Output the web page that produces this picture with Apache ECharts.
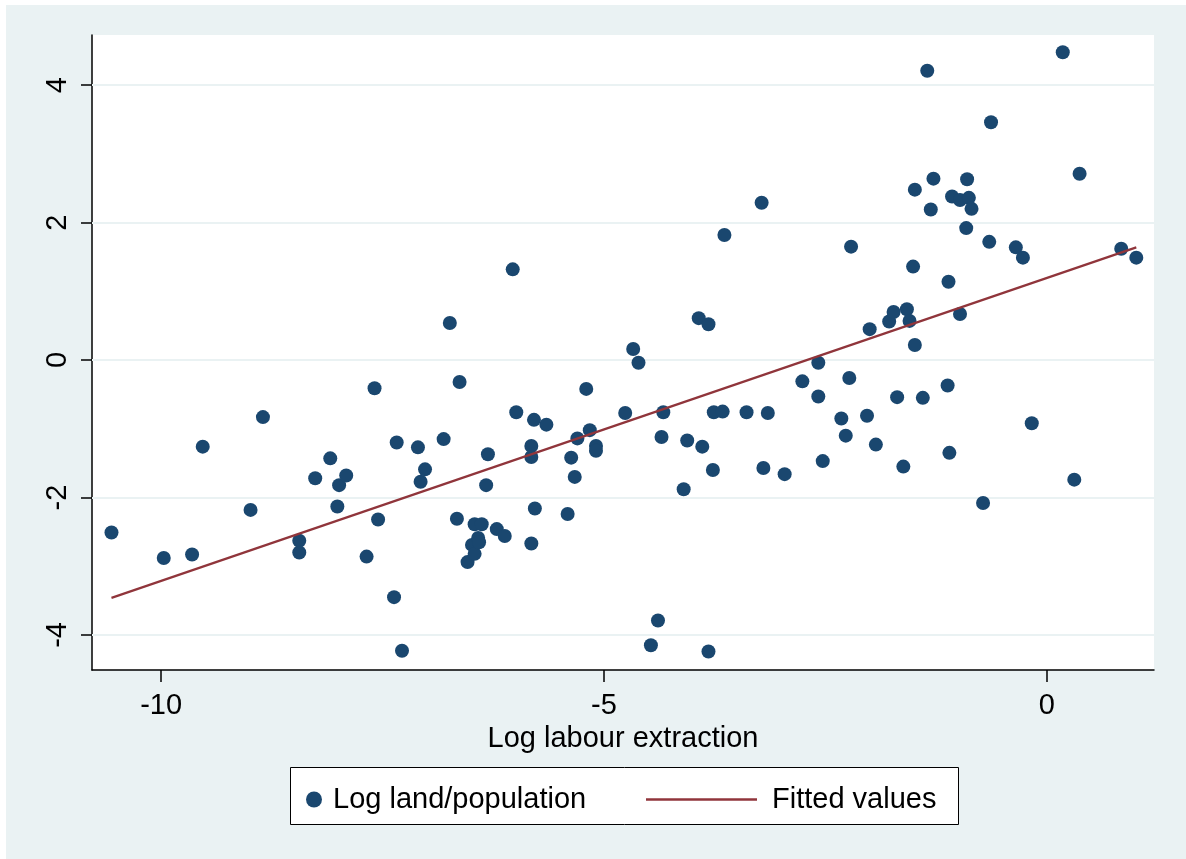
<!DOCTYPE html>
<html>
<head>
<meta charset="utf-8">
<script src="https://cdn.jsdelivr.net/npm/echarts@6/dist/echarts.min.js"></script>
<style>
html,body{margin:0;padding:0;background:#ffffff;}
#chart{width:1186px;height:859px;}
</style>
</head>
<body>
<div id="chart"></div>
<script>
// Scatter points: [Log labour extraction, Log land/population]
var scatterPoints = [
  [-10.56, -2.51], [-9.97, -2.88], [-9.65, -2.83], [-9.53, -1.26], [-8.99, -2.18],
  [-8.85, -0.83], [-8.44, -2.63], [-8.44, -2.80], [-8.26, -1.72], [-8.09, -1.43],
  [-8.01, -2.13], [-7.99, -1.82], [-7.91, -1.68], [-7.68, -2.86], [-7.59, -0.41],
  [-7.55, -2.32], [-7.37, -3.45], [-7.34, -1.20], [-7.28, -4.23], [-7.10, -1.27],
  [-7.07, -1.77], [-7.02, -1.59], [-6.81, -1.15], [-6.74, 0.54], [-6.66, -2.31],
  [-6.63, -0.32], [-6.54, -2.94], [-6.49, -2.69], [-6.46, -2.82], [-6.46, -2.39],
  [-6.42, -2.59], [-6.41, -2.65], [-6.38, -2.39], [-6.33, -1.82], [-6.31, -1.37],
  [-6.21, -2.46], [-6.12, -2.56], [-6.03, 1.32], [-5.99, -0.76], [-5.82, -1.25],
  [-5.82, -1.41], [-5.82, -2.67], [-5.79, -0.87], [-5.78, -2.16], [-5.65, -0.94],
  [-5.41, -2.24], [-5.37, -1.42], [-5.33, -1.70], [-5.30, -1.14], [-5.20, -0.42],
  [-5.16, -1.02], [-5.09, -1.25], [-5.09, -1.32], [-4.76, -0.77], [-4.67, 0.16],
  [-4.61, -0.04], [-4.47, -4.15], [-4.39, -3.79], [-4.35, -1.12], [-4.33, -0.76],
  [-4.10, -1.88], [-4.06, -1.17], [-3.93, 0.61], [-3.89, -1.26], [-3.82, 0.52],
  [-3.82, -4.24], [-3.77, -1.60], [-3.76, -0.76], [-3.66, -0.75], [-3.64, 1.82],
  [-3.39, -0.76], [-3.22, 2.29], [-3.20, -1.57], [-3.15, -0.77], [-2.96, -1.66],
  [-2.76, -0.31], [-2.58, -0.04], [-2.58, -0.53], [-2.53, -1.47], [-2.32, -0.85],
  [-2.27, -1.10], [-2.23, -0.26], [-2.21, 1.65], [-2.03, -0.81], [-2.00, 0.45],
  [-1.93, -1.23], [-1.78, 0.56], [-1.73, 0.70], [-1.69, -0.54], [-1.62, -1.55],
  [-1.58, 0.74], [-1.55, 0.57], [-1.51, 1.36], [-1.49, 2.48], [-1.49, 0.22],
  [-1.40, -0.55], [-1.35, 4.21], [-1.31, 2.19], [-1.28, 2.64], [-1.12, -0.37],
  [-1.11, 1.14], [-1.10, -1.35], [-1.07, 2.38], [-0.98, 2.33], [-0.98, 0.67],
  [-0.91, 1.92], [-0.90, 2.63], [-0.88, 2.36], [-0.85, 2.20], [-0.72, -2.08],
  [-0.65, 1.72], [-0.63, 3.46], [-0.35, 1.64], [-0.27, 1.49], [-0.17, -0.92],
  [0.18, 4.48], [0.31, -1.74], [0.37, 2.71], [0.84, 1.62], [1.01, 1.49]
];
// Fitted values line endpoints
var fittedLine = [[-10.56, -3.46], [1.01, 1.64]];
var xTicks = [-10, -5, 0];
var yTicks = [-4, -2, 0, 2, 4];
var xTitle = 'Log labour extraction';
var seriesNames = ['Log land/population', 'Fitted values'];

var FONT = '"Liberation Sans", Arial, sans-serif';
var chart = echarts.init(document.getElementById('chart'), null, {renderer: 'canvas'});
chart.setOption({
  backgroundColor: 'transparent',
  animation: false,
  graphic: [
    {type: 'rect', left: 6, top: 5, shape: {width: 1180, height: 854}, style: {fill: '#EAF2F3'}, z: -10, silent: true},
    {type: 'rect', left: 290, top: 767, shape: {width: 668, height: 57}, style: {fill: '#ffffff', stroke: '#000000', lineWidth: 1}, z: 1, silent: true}
  ],
  grid: {left: 92, right: 32, top: 35, bottom: 189, show: true, backgroundColor: '#ffffff', borderWidth: 0},
  xAxis: {
    type: 'value', min: -10.78, max: 1.21,
    name: xTitle, nameLocation: 'middle', nameGap: 50,
    nameTextStyle: {fontFamily: FONT, fontSize: 29, color: '#000'},
    axisLine: {show: true, onZero: false, lineStyle: {color: '#000', width: 1.5}},
    axisTick: {show: true, length: 12, customValues: xTicks, lineStyle: {color: '#000', width: 1.5}},
    axisLabel: {customValues: xTicks, margin: 21, fontFamily: FONT, fontSize: 29, color: '#000'},
    splitLine: {show: false}
  },
  yAxis: {
    type: 'value', min: -4.51, max: 4.73,
    axisLine: {show: true, onZero: false, lineStyle: {color: '#000', width: 1.5}},
    axisTick: {show: true, length: 11, customValues: yTicks, lineStyle: {color: '#000', width: 1.5}},
    axisLabel: {customValues: yTicks, rotate: 90, margin: 20, fontFamily: FONT, fontSize: 29, color: '#000'},
    splitLine: {show: false}
  },
  legend: [
    {
      data: [{name: seriesNames[0], icon: 'circle'}],
      left: 301, top: 780, itemWidth: 16, itemHeight: 16,
      textStyle: {fontFamily: FONT, fontSize: 29, color: '#000', padding: [0, 0, 0, 6]}, z: 5
    },
    {
      data: [{name: seriesNames[1], icon: 'rect'}],
      left: 641, top: 780, itemWidth: 111, itemHeight: 2.5,
      textStyle: {fontFamily: FONT, fontSize: 29, color: '#000', padding: [0, 0, 0, 10]}, z: 5
    }
  ],
  series: [
    {
      name: seriesNames[0], type: 'scatter', data: scatterPoints,
      symbol: 'circle', symbolSize: 14,
      itemStyle: {color: '#1A476F', opacity: 1},
      markLine: {
        silent: true, symbol: 'none', label: {show: false},
        lineStyle: {color: '#EAF2F3', width: 2, type: 'solid'},
        data: yTicks.map(function (v) { return {yAxis: v}; }),
        z: 1
      },
      z: 3
    },
    {
      name: seriesNames[1], type: 'line', data: fittedLine,
      symbol: 'none', showSymbol: false,
      lineStyle: {color: '#90353B', width: 2.2},
      itemStyle: {color: '#90353B'},
      z: 4
    }
  ]
});
</script>
</body>
</html>
